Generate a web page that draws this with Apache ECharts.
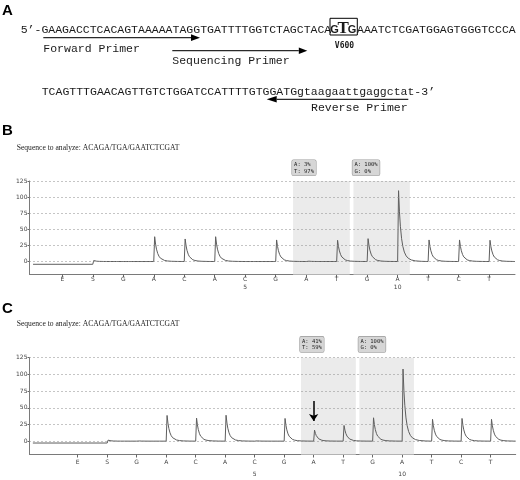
<!DOCTYPE html>
<html>
<head>
<meta charset="utf-8">
<title>BRAF V600 pyrosequencing</title>
<script src="https://cdn.jsdelivr.net/npm/echarts@6/dist/echarts.min.js"></script>
<style>
  html, body { margin: 0; padding: 0; background: #fff; }
  #chart { width: 520px; height: 480px; }
</style>
</head>
<body>
<div id="chart"></div>
<script>
// Dispensation order of the pyrosequencing run (E = enzyme, S = substrate)
const dispensations = ['E', 'S', 'G', 'A', 'C', 'A', 'C', 'G', 'A', 'T', 'G', 'A', 'T', 'C', 'T'];
// Cycle numbers printed under the nucleotide dispensations
const cycleMarks = [5, 10];
// Light-unit peak heights at each dispensation
const peaksB = [0, 1.5, 0, 38.5, 35, 38.5, 0, 33.5, 1, 33, 35.5, 110, 33.5, 33.5, 33];
const peaksC = [0, 1.5, 0.5, 38.5, 34.5, 38.8, 0.8, 34, 16.5, 23.5, 35, 108, 32.7, 34, 32.7];
// Signal level before substrate addition
const preBaseB = -4.3;
const preBaseC = -2.8;
// Variable positions analysed (dispensation ranges) and their allele readouts
const variantRanges = [[8.57, 10.43], [10.55, 12.4]];
const allelesB = ['A: 3%\nT: 97%', 'A: 100%\nG: 0%'];
const allelesC = ['A: 41%\nT: 59%', 'A: 100%\nG: 0%'];
// Mutant A signal highlighted in panel C
const arrowC = { position: 9, from: 60, to: 30 };
// Y axis ticks
const yTicks = [0, 25, 50, 75, 100, 125];

const seqLine1a = '5\u2019-GAAGACCTCACAGTAAAAATAGGTGATTTTGGTCTAGCTACA';
const codon = ['G', 'T', 'G'];
const seqLine1b = 'AAATCTCGATGGAGTGGGTCCCA';
const seqLine2 = 'TCAGTTTGAACAGTTGTCTGGATCCATTTTGTGGATGgtaagaattgaggctat-3\u2019';
const sequenceTitle = 'Sequence to analyze: ACAGA/TGA/GAATCTCGAT';

// Pyrogram trace: a sharp rise at each dispensation followed by the
// characteristic light decay of the luciferase reaction.
const decaySteps = [0, 0.03, 0.06, 0.1, 0.14, 0.19, 0.25, 0.32, 0.42, 0.55, 0.75];
function decay(d) {
  return 0.72 * Math.exp(-d / 0.07) + 0.28 * Math.exp(-d / 0.16);
}
function buildTrace(peaks, preBase, start, end) {
  const pts = [[start, preBase]];
  for (let i = 1; i < peaks.length; i++) {
    const p = i + 1;
    const before = i === 1 ? preBase : 0;
    pts.push([p, before]);
    const h = peaks[i];
    for (const d of decaySteps) {
      pts.push([p + 0.03 + d, h * decay(d)]);
    }
  }
  pts.push([end, 0]);
  return pts;
}

const xRangeB = [-0.076, 15.85];
const xRangeC = [-0.634, 15.85];

function xAxisFor(gridIndex, range, lineHeight) {
  const values = dispensations.map((_, i) => i + 1);
  return {
    type: 'value', gridIndex, min: range[0], max: range[1],
    axisLine: { onZero: false, lineStyle: { color: '#7a7a7a', width: 1 } },
    axisTick: { customValues: values, length: 3, lineStyle: { color: '#666' } },
    splitLine: { show: false },
    axisLabel: {
      customValues: values, margin: 1.5, fontSize: 6, color: '#444',
      fontFamily: 'DejaVu Sans', lineHeight: lineHeight,
      formatter: (v) => {
        const idx = Math.round(v) - 1;
        const n = idx - 2 + 1;
        const letter = dispensations[idx] || '';
        return cycleMarks.includes(n) ? letter + '\n' + n : letter;
      }
    }
  };
}
function yAxisFor(gridIndex) {
  return {
    type: 'value', gridIndex, min: -20, max: 125,
    axisLine: { show: true, onZero: false, lineStyle: { color: '#7a7a7a', width: 1 } },
    axisTick: { show: true, customValues: yTicks, length: 2, lineStyle: { color: '#666' } },
    splitLine: { show: false },
    axisLabel: { customValues: yTicks, margin: 2, fontSize: 6, color: '#444', fontFamily: 'DejaVu Sans' }
  };
}
function bandSeries(axisIndex, labels) {
  return {
    type: 'line', xAxisIndex: axisIndex, yAxisIndex: axisIndex, data: [], z: 1, silent: true,
    markArea: {
      silent: true,
      itemStyle: { color: '#ebebeb' },
      label: {
        show: true, position: [-1, -21], formatter: '{b}',
        fontSize: 5.5, lineHeight: 6.5, fontFamily: 'DejaVu Sans Mono', color: '#222',
        backgroundColor: '#d6d6d6', borderColor: '#9a9a9a', borderWidth: 0.6,
        borderRadius: 1.5, padding: [1.5, 2, 1, 2], align: 'left', verticalAlign: 'top'
      },
      data: variantRanges.map((r, k) => [{ xAxis: r[0], name: labels[k] }, { xAxis: r[1] }])
    }
  };
}
function gridLineSeries(axisIndex) {
  return {
    type: 'line', xAxisIndex: axisIndex, yAxisIndex: axisIndex, data: [], z: 2, silent: true,
    markLine: {
      silent: true, symbol: 'none', label: { show: false },
      lineStyle: { color: '#8a8a8a', type: [1, 3], width: 1 },
      emphasis: { disabled: true },
      data: yTicks.map((t) => ({ yAxis: t }))
    }
  };
}
function traceSeries(axisIndex, data) {
  return {
    type: 'line', xAxisIndex: axisIndex, yAxisIndex: axisIndex, data, z: 3,
    showSymbol: false, symbol: 'none', smooth: false, silent: true, animation: false,
    lineStyle: { color: '#5e5e5e', width: 1 }
  };
}

const mono = 'Liberation Mono';
const seqFont = 11.5;
function txt(x, y, text, extra) {
  return {
    type: 'text', x, y, silent: true,
    style: Object.assign({ text, fontFamily: mono, fontSize: seqFont, fill: '#1a1a1a',
      align: 'left', verticalAlign: 'middle' }, extra || {})
  };
}
function arrow(x1, x2, y, headLen, headHalf) {
  const dir = x2 > x1 ? 1 : -1;
  const base = x2 - dir * headLen;
  return [
    { type: 'line', silent: true, shape: { x1, y1: y, x2: base, y2: y }, style: { stroke: '#2a2a2a', lineWidth: 1.3 } },
    { type: 'polygon', silent: true, shape: { points: [[x2, y], [base, y - headHalf], [base, y + headHalf]] }, style: { fill: '#000' } }
  ];
}

const chart = echarts.init(document.getElementById('chart'), null, { renderer: 'canvas' });
const panelFont = { fontFamily: 'Liberation Sans', fontWeight: 'bold', fontSize: 15, fill: '#000' };

chart.setOption({
  animation: false,
  backgroundColor: '#fff',
  grid: [
    { left: 29.5, right: 5, top: 181, height: 93.4 },
    { left: 29.5, right: 4.3, top: 357.7, height: 102.6 }
  ],
  xAxis: [xAxisFor(0, xRangeB, 8), xAxisFor(1, xRangeC, 12)],
  yAxis: [yAxisFor(0), yAxisFor(1)],
  series: [
    bandSeries(0, allelesB),
    gridLineSeries(0),
    traceSeries(0, buildTrace(peaksB, preBaseB, 0.04, xRangeB[1])),
    bandSeries(1, allelesC),
    gridLineSeries(1),
    traceSeries(1, buildTrace(peaksC, preBaseC, -0.52, xRangeC[1])),
    {
      type: 'line', xAxisIndex: 1, yAxisIndex: 1, data: [], z: 4, silent: true,
      markLine: {
        silent: true, symbol: ['none', 'arrow'], symbolSize: 7, label: { show: false },
        lineStyle: { color: '#000', type: 'solid', width: 1.5 },
        itemStyle: { color: '#000' },
        emphasis: { disabled: true },
        data: [[{ coord: [arrowC.position, arrowC.from] }, { coord: [arrowC.position, arrowC.to] }]]
      }
    }
  ],
  graphic: [
    // Panel letters
    { type: 'text', x: 2, y: 10.5, silent: true, style: Object.assign({ text: 'A', verticalAlign: 'middle' }, panelFont) },
    { type: 'text', x: 2, y: 131, silent: true, style: Object.assign({ text: 'B', verticalAlign: 'middle' }, panelFont) },
    { type: 'text', x: 2, y: 309, silent: true, style: Object.assign({ text: 'C', verticalAlign: 'middle' }, panelFont) },
    // Genomic sequence with the V600 codon boxed
    txt(20.7, 29.5, seqLine1a),
    { type: 'rect', silent: true, shape: { x: 330, y: 18.3, width: 27.3, height: 16.7 }, style: { fill: 'none', stroke: '#000', lineWidth: 1 } },
    txt(334.6, 30, codon[0], { fontWeight: 'bold', fontSize: 11, align: 'center', fontFamily: 'Liberation Sans' }),
    txt(343.2, 29, codon[1], { fontWeight: 'bold', fontSize: 17, align: 'center', fontFamily: 'Liberation Serif' }),
    txt(352, 30, codon[2], { fontWeight: 'bold', fontSize: 11, align: 'center', fontFamily: 'Liberation Sans' }),
    txt(357, 29.5, seqLine1b),
    txt(344.5, 45.5, 'V600', { fontWeight: 'bold', fontSize: 8, align: 'center', fontFamily: 'DejaVu Sans Mono' }),
    txt(41.7, 91.7, seqLine2),
    // Primers
    ...arrow(43.3, 200, 37.7, 9, 3.4),
    txt(43.3, 48.5, 'Forward Primer'),
    ...arrow(172.3, 307.3, 50.7, 8.5, 3.3),
    txt(172.3, 61, 'Sequencing Primer'),
    ...arrow(408.3, 266.7, 99.3, 10, 3.2),
    txt(311, 107.5, 'Reverse Primer'),
    // Pyrogram headings
    txt(16.7, 148.3, sequenceTitle, { fontFamily: 'Liberation Serif', fontSize: 7.6, fill: '#222' }),
    txt(16.7, 324, sequenceTitle, { fontFamily: 'Liberation Serif', fontSize: 7.6, fill: '#222' })
  ]
});
</script>
</body>
</html>
